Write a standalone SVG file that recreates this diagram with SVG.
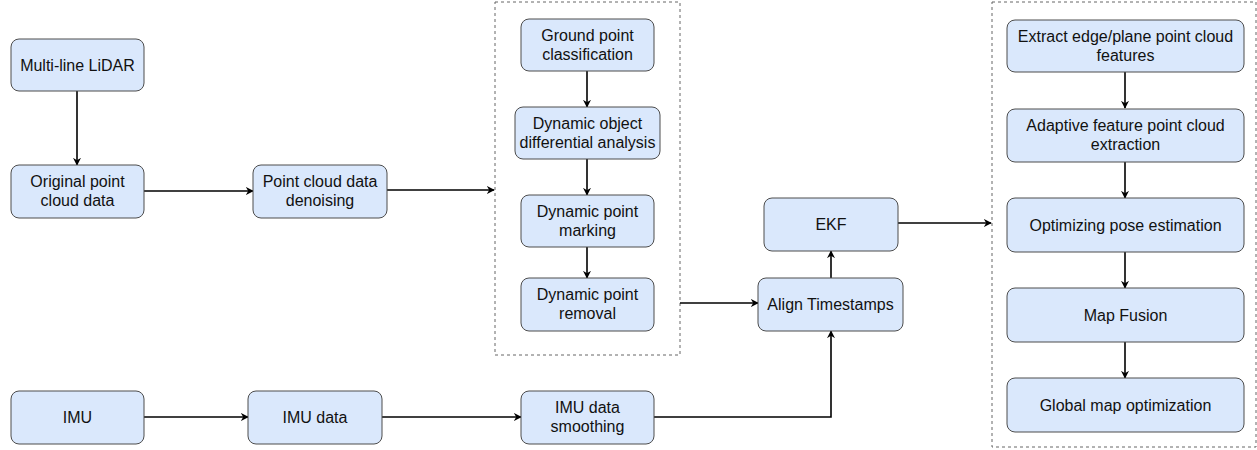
<svg xmlns="http://www.w3.org/2000/svg" width="1257" height="450" viewBox="0 0 1257 450">
<defs>
<marker id="ah" viewBox="0 0 10 10" refX="9" refY="5" markerWidth="8" markerHeight="8" markerUnits="userSpaceOnUse" orient="auto">
<path d="M0,0 L10,5 L0,10 L3,5 Z" fill="#000"/>
</marker>
</defs>
<style>
.n{fill:#dae8fc;stroke:#4d4d4d;stroke-width:1}
.t{font-family:"Liberation Sans",Arial,sans-serif;font-size:16px;fill:#111;text-anchor:middle}
.c{fill:none;stroke:#000;stroke-width:1.6;marker-end:url(#ah)}
.g{fill:none;stroke:#666;stroke-width:1;stroke-dasharray:3 3}
</style>
<rect width="1257" height="450" fill="#fff"/>
<g id="group-filter">
<rect class="g" x="495" y="2" width="185" height="353"/>
</g>
<g id="group-mapping">
<rect class="g" x="992" y="2" width="264" height="445"/>
</g>
<g id="connectors">
<path class="c" d="M77,91 V165"/>
<path class="c" d="M144,191 H253"/>
<path class="c" d="M387,190 H494"/>
<path class="c" d="M587,71 V107"/>
<path class="c" d="M587,159 V195"/>
<path class="c" d="M587,247 V278"/>
<path class="c" d="M680,303 H758"/>
<path class="c" d="M831,278 V251"/>
<path class="c" d="M898,223 H991"/>
<path class="c" d="M1125,72 V108"/>
<path class="c" d="M1125,162 V198"/>
<path class="c" d="M1125,252 V288"/>
<path class="c" d="M1125,342 V378"/>
<path class="c" d="M144,417 H248"/>
<path class="c" d="M382,417 H521"/>
<path class="c" d="M654,417 H831 V331"/>
</g>
<g id="n-lidar"><rect class="n" x="11" y="39" width="133" height="52" rx="8"/><text class="t" x="77.5" y="71">Multi-line LiDAR</text></g>
<g id="n-orig"><rect class="n" x="11" y="165" width="133" height="53" rx="8"/><text class="t" x="77.5" y="187">Original point</text><text class="t" x="77.5" y="206">cloud data</text></g>
<g id="n-denoise"><rect class="n" x="253" y="165" width="134" height="53" rx="8"/><text class="t" x="320" y="187">Point cloud data</text><text class="t" x="320" y="206">denoising</text></g>
<g id="n-ground"><rect class="n" x="521" y="19" width="133" height="52" rx="8"/><text class="t" x="587.5" y="41">Ground point</text><text class="t" x="587.5" y="60">classification</text></g>
<g id="n-dynobj"><rect class="n" x="515" y="107" width="145" height="52" rx="8"/><text class="t" x="587.5" y="129">Dynamic object</text><text class="t" x="587.5" y="148">differential analysis</text></g>
<g id="n-mark"><rect class="n" x="521" y="195" width="133" height="52" rx="8"/><text class="t" x="587.5" y="217">Dynamic point</text><text class="t" x="587.5" y="236">marking</text></g>
<g id="n-remove"><rect class="n" x="521" y="278" width="133" height="53" rx="8"/><text class="t" x="587.5" y="300">Dynamic point</text><text class="t" x="587.5" y="319">removal</text></g>
<g id="n-ekf"><rect class="n" x="764" y="198" width="134" height="53" rx="8"/><text class="t" x="831" y="230">EKF</text></g>
<g id="n-align"><rect class="n" x="758" y="278" width="145" height="53" rx="8"/><text class="t" x="830.5" y="310">Align Timestamps</text></g>
<g id="n-extract"><rect class="n" x="1007" y="20" width="237" height="52" rx="8"/><text class="t" x="1125.5" y="42">Extract edge/plane point cloud</text><text class="t" x="1125.5" y="61">features</text></g>
<g id="n-adaptive"><rect class="n" x="1007" y="109" width="237" height="53" rx="8"/><text class="t" x="1125.5" y="131">Adaptive feature point cloud</text><text class="t" x="1125.5" y="150">extraction</text></g>
<g id="n-pose"><rect class="n" x="1007" y="198" width="237" height="54" rx="8"/><text class="t" x="1125.5" y="231">Optimizing pose estimation</text></g>
<g id="n-fusion"><rect class="n" x="1007" y="288" width="237" height="54" rx="8"/><text class="t" x="1125.5" y="321">Map Fusion</text></g>
<g id="n-global"><rect class="n" x="1007" y="378" width="237" height="54" rx="8"/><text class="t" x="1125.5" y="411">Global map optimization</text></g>
<g id="n-imu"><rect class="n" x="11" y="391" width="133" height="53" rx="8"/><text class="t" x="77.5" y="423">IMU</text></g>
<g id="n-imudata"><rect class="n" x="248" y="391" width="134" height="53" rx="8"/><text class="t" x="315" y="423">IMU data</text></g>
<g id="n-smooth"><rect class="n" x="521" y="391" width="133" height="53" rx="8"/><text class="t" x="587.5" y="413">IMU data</text><text class="t" x="587.5" y="432">smoothing</text></g>
</svg>
